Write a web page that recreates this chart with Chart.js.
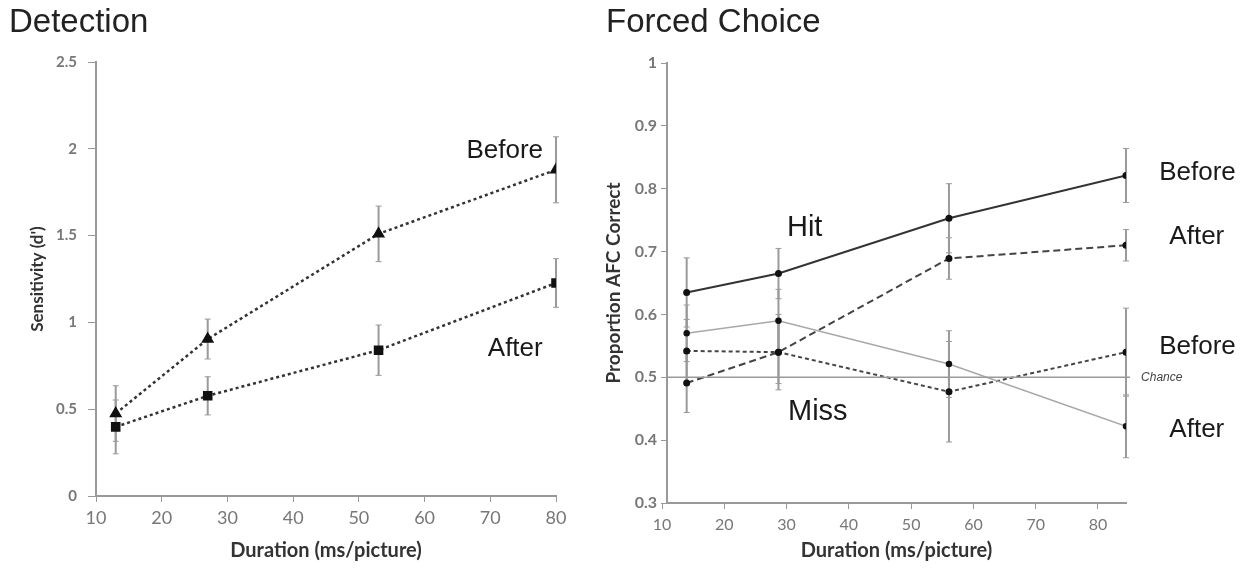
<!DOCTYPE html>
<html>
<head>
<meta charset="utf-8">
<script src="https://cdn.jsdelivr.net/npm/chart.js@4.4.1/dist/chart.umd.min.js"></script>
<style>
  html, body { margin: 0; padding: 0; background: #fff; }
  #wrap { position: relative; width: 1245px; height: 571px; overflow: hidden; }
  .box { position: absolute; top: 0; height: 571px; }
  .ttl { position: absolute; top: 2px; font-family: "Liberation Sans", Arial, sans-serif; font-size: 33px; color: #222; line-height: 38px; white-space: nowrap; }
</style>
</head>
<body>
<div id="wrap">
  <div class="box" style="left:0;width:600px;"><canvas id="c1" width="600" height="571"></canvas></div>
  <div class="box" style="left:600px;width:645px;"><canvas id="c2" width="645" height="571"></canvas></div>
  <div class="ttl" style="left:9px;">Detection</div>
  <div class="ttl" style="left:606px;">Forced Choice</div>
</div>
<script>
// ---------- data ----------
const durations = [13, 27, 53, 80];
const xTickValues = [10, 20, 30, 40, 50, 60, 70, 80];

// Detection (d')
const detBefore = [0.475, 0.904, 1.51, 1.879];
const detBeforeErr = [0.16, 0.115, 0.16, 0.19];
const detAfter = [0.398, 0.577, 0.84, 1.227];
const detAfterErr = [0.155, 0.11, 0.145, 0.14];
const detYTicks = [0, 0.5, 1, 1.5, 2, 2.5];

// Forced choice (proportion AFC correct)
const hitBefore = [0.635, 0.665, 0.753, 0.821];
const hitBeforeErr = [0.055, 0.04, 0.055, 0.043];
const hitAfter = [0.491, 0.540, 0.689, 0.710];
const hitAfterErr = [0.047, 0.06, 0.033, 0.025];
const missBefore = [0.542, 0.540, 0.477, 0.540];
const missBeforeErr = [0.05, 0.05, 0.08, 0.07];
const missAfter = [0.570, 0.590, 0.521, 0.422];
const missAfterErr = [0.045, 0.05, 0.053, 0.05];
const chanceLevel = 0.5;
const chanceSpan = [10, 80.6];
const fcYTicks = [0.3, 0.4, 0.5, 0.6, 0.7, 0.8, 0.9, 1];

// ---------- helpers ----------
const pts = (xs, ys) => xs.map((x, i) => ({ x: x, y: ys[i] }));
const fmt = v => String(Math.round(v * 100) / 100);
const TICK_FONT = "Lato, 'Open Sans', sans-serif";
const ANN_FONT = "'Liberation Sans', Arial, sans-serif";

const errorBarPlugin = {
  id: 'errorBars',
  beforeDatasetsDraw(chart) {
    const ctx = chart.ctx;
    const xs = chart.scales.x, ys = chart.scales.y;
    ctx.save();
    chart.data.datasets.forEach(ds => {
      if (!ds.errors) return;
      ds.data.forEach((p, i) => {
        const e = ds.errors[i];
        const px = xs.getPixelForValue(p.x);
        const y1 = ys.getPixelForValue(p.y + e);
        const y2 = ys.getPixelForValue(p.y - e);
        ctx.strokeStyle = ds.errColor || '#9a9a9a';
        ctx.lineWidth = ds.errWidth || 2;
        ctx.beginPath(); ctx.moveTo(px, y1); ctx.lineTo(px, y2); ctx.stroke();
        ctx.lineWidth = 1;
        const cw = ds.capWidth || 3;
        ctx.beginPath();
        ctx.moveTo(px - cw, y1); ctx.lineTo(px + cw, y1);
        ctx.moveTo(px - cw, y2); ctx.lineTo(px + cw, y2);
        ctx.stroke();
      });
    });
    ctx.restore();
  }
};

const annotationPlugin = {
  id: 'annots',
  afterDatasetsDraw(chart, args, opts) {
    const ctx = chart.ctx;
    const xs = chart.scales.x, ys = chart.scales.y;
    ctx.save();
    (opts.items || []).forEach(a => {
      ctx.font = a.font;
      ctx.fillStyle = a.color || '#1a1a1a';
      ctx.textAlign = a.align || 'center';
      ctx.textBaseline = 'middle';
      ctx.fillText(a.text, xs.getPixelForValue(a.x), ys.getPixelForValue(a.y));
    });
    ctx.restore();
  }
};

// ---------- Detection chart ----------
new Chart(document.getElementById('c1'), {
  type: 'line',
  plugins: [errorBarPlugin, annotationPlugin],
  data: {
    datasets: [
      {
        label: 'Before', data: pts(durations, detBefore), errors: detBeforeErr,
        borderColor: '#333', borderWidth: 2.5, borderDash: [3, 3],
        pointStyle: 'triangle', pointRadius: 5, pointBackgroundColor: '#111', pointBorderColor: '#111',
        fill: false, tension: 0, errWidth: 2, capWidth: 3
      },
      {
        label: 'After', data: pts(durations, detAfter), errors: detAfterErr,
        borderColor: '#333', borderWidth: 2.5, borderDash: [3, 3],
        pointStyle: 'rect', pointRadius: 5, pointBackgroundColor: '#111', pointBorderColor: '#111',
        fill: false, tension: 0, errWidth: 2, capWidth: 3
      }
    ]
  },
  options: {
    responsive: false, animation: false, devicePixelRatio: 1,
    layout: { padding: { left: 0, top: 62, right: 44, bottom: 0 } },
    plugins: {
      legend: { display: false }, tooltip: { enabled: false },
      annots: { items: [
        { text: 'Before', x: 72.2, y: 1.99, font: '26px ' + ANN_FONT },
        { text: 'After', x: 73.8, y: 0.85, font: '26px ' + ANN_FONT }
      ] }
    },
    scales: {
      x: {
        type: 'linear', min: 10, max: 80,
        afterBuildTicks: s => { s.ticks = xTickValues.map(v => ({ value: v })); },
        afterFit: s => { s.height = 75; },
        grid: { drawOnChartArea: false, drawTicks: true, tickLength: 6, color: '#999' },
        border: { display: true, color: '#999', width: 2 },
        ticks: { color: '#777', padding: 5, callback: fmt, font: { family: TICK_FONT, size: 18 } },
        title: { display: true, text: 'Duration (ms/picture)', color: '#333', padding: { top: 0, bottom: 8 },
                 font: { family: TICK_FONT, size: 20, weight: 'bold' } }
      },
      y: {
        type: 'linear', min: 0, max: 2.5,
        afterBuildTicks: s => { s.ticks = detYTicks.map(v => ({ value: v })); },
        afterFit: s => { s.width = 96; },
        grid: { drawOnChartArea: false, drawTicks: true, tickLength: 8, color: '#999' },
        border: { display: true, color: '#999', width: 2 },
        ticks: { color: '#777', padding: 11, callback: fmt, font: { family: TICK_FONT, size: 15, weight: 'bold' } },
        title: { display: true, text: "Sensitivity (d')", color: '#333', padding: { top: 27, bottom: 0 },
                 font: { family: TICK_FONT, size: 17, weight: 'bold' } }
      }
    }
  }
});

// ---------- Forced choice chart ----------
new Chart(document.getElementById('c2'), {
  type: 'line',
  plugins: [errorBarPlugin, annotationPlugin],
  data: {
    datasets: [
      {
        label: 'Chance', data: pts(chanceSpan, [chanceLevel, chanceLevel]),
        borderColor: '#999', borderWidth: 1.5, pointRadius: 0, fill: false, clip: false
      },
      {
        label: 'Miss After', data: pts(durations, missAfter), errors: missAfterErr,
        borderColor: '#a8a8a8', borderWidth: 1.5,
        pointRadius: 2.5, pointBackgroundColor: '#111', pointBorderColor: '#111', fill: false, tension: 0
      },
      {
        label: 'Miss Before', data: pts(durations, missBefore), errors: missBeforeErr,
        borderColor: '#444', borderWidth: 2, borderDash: [4, 3],
        pointRadius: 2.5, pointBackgroundColor: '#111', pointBorderColor: '#111', fill: false, tension: 0
      },
      {
        label: 'Hit After', data: pts(durations, hitAfter), errors: hitAfterErr,
        borderColor: '#444', borderWidth: 2, borderDash: [7, 4],
        pointRadius: 2.5, pointBackgroundColor: '#111', pointBorderColor: '#111', fill: false, tension: 0
      },
      {
        label: 'Hit Before', data: pts(durations, hitBefore), errors: hitBeforeErr,
        borderColor: '#333', borderWidth: 2,
        pointRadius: 2.5, pointBackgroundColor: '#111', pointBorderColor: '#111', fill: false, tension: 0
      }
    ]
  },
  options: {
    responsive: false, animation: false, devicePixelRatio: 1,
    layout: { padding: { left: 0, top: 63, right: 119, bottom: 0 } },
    plugins: {
      legend: { display: false }, tooltip: { enabled: false },
      annots: { items: [
        { text: 'Hit', x: 31, y: 0.737, font: '29px ' + ANN_FONT },
        { text: 'Miss', x: 33, y: 0.445, font: '29px ' + ANN_FONT },
        { text: 'Before', x: 90.9, y: 0.826, font: '26px ' + ANN_FONT },
        { text: 'After', x: 90.8, y: 0.724, font: '26px ' + ANN_FONT },
        { text: 'Before', x: 90.9, y: 0.548, font: '26px ' + ANN_FONT },
        { text: 'After', x: 90.8, y: 0.416, font: '26px ' + ANN_FONT },
        { text: 'Chance', x: 82.3, y: 0.5, align: 'left', color: '#444', font: 'italic 12px ' + ANN_FONT }
      ] }
    },
    scales: {
      x: { type: 'linear', min: 10, max: 80, display: false },
      xt: {
        type: 'linear', position: 'bottom', min: 10.8, max: 84.5,
        afterBuildTicks: s => { s.ticks = xTickValues.map(v => ({ value: v })); },
        afterFit: s => { s.height = 68; },
        grid: { drawOnChartArea: false, drawTicks: true, tickLength: 6, color: '#999' },
        border: { display: true, color: '#999', width: 2 },
        ticks: { color: '#777', padding: 6, callback: fmt, font: { family: TICK_FONT, size: 16 } },
        title: { display: true, text: 'Duration (ms/picture)', color: '#333', padding: { top: 0, bottom: 8 },
                 font: { family: TICK_FONT, size: 20, weight: 'bold' } }
      },
      y: {
        type: 'linear', min: 0.3, max: 1,
        afterBuildTicks: s => { s.ticks = fcYTicks.map(v => ({ value: v })); },
        afterFit: s => { s.width = 67; },
        grid: { drawOnChartArea: false, drawTicks: true, tickLength: 6, color: '#999' },
        border: { display: true, color: '#999', width: 2 },
        ticks: { color: '#777', padding: 4, callback: fmt, font: { family: TICK_FONT, size: 16, weight: 'bold' } },
        title: { display: true, text: 'Proportion AFC Correct', color: '#333', padding: { top: 2, bottom: 0 },
                 font: { family: TICK_FONT, size: 19, weight: 'bold' } }
      }
    }
  }
});
</script>
</body>
</html>
